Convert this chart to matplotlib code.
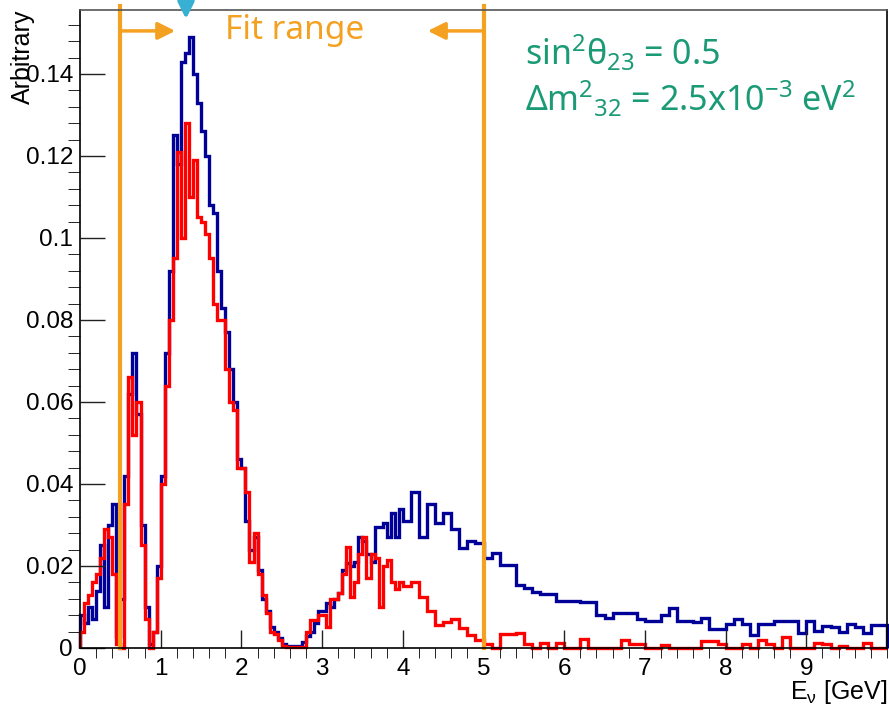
import numpy as np
import matplotlib
matplotlib.use('Agg')
import matplotlib.pyplot as plt
from matplotlib.ticker import MultipleLocator, FuncFormatter

plt.rcParams['font.family'] = ['Liberation Sans', 'DejaVu Sans']
plt.rcParams['mathtext.fontset'] = 'custom'
plt.rcParams['mathtext.rm'] = 'Noto Sans'
plt.rcParams['mathtext.it'] = 'Noto Sans:italic'
plt.rcParams['mathtext.default'] = 'regular'

# bin edges: 0.05 GeV up to 4 GeV, 0.1 GeV above
edges_fine = np.linspace(0, 4, 81)
edges_coarse = np.linspace(4, 10, 61)[1:]

# no oscillation (blue), 0-4 GeV
blue_lo = [0.008, 0.006, 0.010, 0.007, 0.014, 0.025, 0.010, 0.030, 0.035, 0.003,
           0.012, 0.042, 0.062, 0.072, 0.057, 0.030, 0.010, 0.001, 0.004, 0.020,
           0.042, 0.072, 0.092, 0.125, 0.118, 0.143, 0.145, 0.149, 0.140, 0.133,
           0.126, 0.120, 0.108, 0.106, 0.092, 0.083, 0.077, 0.068, 0.060, 0.046,
           0.044, 0.031, 0.024, 0.027, 0.019, 0.012, 0.009, 0.005, 0.004, 0.0025,
           0.001, 0.0005, 0.0005, 0.0005, 0.0005, 0.0015, 0.003, 0.004, 0.006, 0.009,
           0.009, 0.011, 0.010, 0.012, 0.0134, 0.019, 0.0207, 0.020, 0.021, 0.027,
           0.026, 0.023, 0.021, 0.0295, 0.0295, 0.0305, 0.027, 0.033, 0.027, 0.034]
# 4-10 GeV
blue_hi = [0.031, 0.038, 0.027, 0.035, 0.0305, 0.033, 0.029, 0.0244, 0.026, 0.0255,
           0.022, 0.0232, 0.0202, 0.0202, 0.0154, 0.0146, 0.0137, 0.0131, 0.0131, 0.0115,
           0.0115, 0.0115, 0.0113, 0.0113, 0.008, 0.0073, 0.0085, 0.0085, 0.0085, 0.007,
           0.0066, 0.0066, 0.008, 0.0097, 0.0067, 0.0067, 0.0063, 0.0073, 0.0046, 0.0046,
           0.0058, 0.007, 0.0058, 0.0032, 0.0058, 0.0058, 0.0065, 0.0065, 0.0065, 0.0037,
           0.0065, 0.0041, 0.0054, 0.005, 0.0039, 0.0058, 0.005, 0.0036, 0.0055, 0.0055]

# oscillated (red)
red_lo = [0.004, 0.011, 0.013, 0.016, 0.018, 0.022, 0.029, 0.027, 0.018, 0.001,
          0.000, 0.035, 0.066, 0.052, 0.060, 0.025, 0.007, 0.000, 0.004, 0.017,
          0.040, 0.064, 0.080, 0.095, 0.121, 0.100, 0.128, 0.110, 0.119, 0.105,
          0.104, 0.101, 0.095, 0.084, 0.080, 0.080, 0.068, 0.060, 0.058, 0.044,
          0.044, 0.038, 0.021, 0.028, 0.018, 0.013, 0.0085, 0.004, 0.0035, 0.002,
          0.0005, 0.0003, 0.0003, 0.0003, 0.0003, 0.0003, 0.004, 0.0068, 0.0068, 0.008,
          0.008, 0.005, 0.012, 0.012, 0.0134, 0.018, 0.0246, 0.0124, 0.016, 0.023,
          0.027, 0.017, 0.023, 0.022, 0.010, 0.020, 0.0215, 0.016, 0.0145, 0.016]
red_hi = [0.015, 0.016, 0.0124, 0.009, 0.0056, 0.0063, 0.007, 0.0049, 0.0032, 0.002,
          0.001, 0.0, 0.0034, 0.0034, 0.0036, 0.001, 0.0, 0.0013, 0.0, 0.0013,
          0.0, 0.0, 0.0022, 0.0, 0.0, 0.0, 0.0, 0.002, 0.001, 0.001,
          0.0, 0.0, 0.0008, 0.0, 0.0, 0.0, 0.0, 0.0018, 0.0018, 0.001,
          0.0, 0.0, 0.001, 0.0, 0.002, 0.001, 0.0, 0.0027, 0.0, 0.0,
          0.0, 0.0013, 0.001, 0.0, 0.0005, 0.0, 0.0, 0.0013, 0.0, 0.0]

fit_range = [0.5, 5.0]

orange = '#F4A020'
green = '#1B9A76'
cyan = '#38B0D4'

edges = np.concatenate([edges_fine, edges_coarse])
blue = np.array(blue_lo + blue_hi)
red = np.array(red_lo + red_hi)

fig = plt.figure(figsize=(8.89, 7.07), dpi=100)
ax = fig.add_axes([80/889, 1 - 648/707, 807/889, 638/707])

ax.stairs(blue, edges, color='#000099', lw=2.4, clip_on=False)
ax.stairs(red, edges, color='#FF0000', lw=2.4, clip_on=False)

ax.set_xlim(0, 10)
ax.set_ylim(0, 0.1556)

ax.set_xticks(range(0, 10))
ax.xaxis.set_minor_locator(MultipleLocator(0.2))
ax.yaxis.set_major_locator(MultipleLocator(0.02))
ax.yaxis.set_minor_locator(MultipleLocator(0.004))
ax.yaxis.set_major_formatter(FuncFormatter(lambda v, p: '%g' % round(v, 4)))

ax.tick_params(direction='in', labelsize=17.5, width=1, color='#222222')
ax.tick_params(axis='y', which='major', length=18, pad=5)
ax.tick_params(axis='y', which='minor', length=9)
ax.tick_params(axis='x', which='major', length=13, pad=7)
ax.tick_params(axis='x', which='minor', length=7.5)
for s in ax.spines.values():
    s.set_linewidth(1.2)
ax.spines['top'].set_color('#555555')

# fit range markers
for x in fit_range:
    ax.axvline(x, ymin=0, ymax=1.006, color=orange, lw=3, clip_on=False)
y_arr = 0.1505
ax.annotate('', xy=(1.18, y_arr), xytext=(fit_range[0], y_arr),
            arrowprops=dict(arrowstyle='-|>', color=orange, lw=2.5,
                            mutation_scale=26, shrinkA=0, shrinkB=0))
ax.annotate('', xy=(4.31, y_arr), xytext=(fit_range[1], y_arr),
            arrowprops=dict(arrowstyle='-|>', color=orange, lw=2.5,
                            mutation_scale=26, shrinkA=0, shrinkB=0))
ax.text(2.66, y_arr, 'Fit range', color=orange, fontsize=24,
        family='Noto Sans', ha='center', va='center')

# arrow from above
ax.annotate('', xy=(186, 707 - 19), xycoords='figure pixels',
            xytext=(186, 760), textcoords='figure pixels',
            arrowprops=dict(arrowstyle='-|>', color=cyan, lw=3,
                            mutation_scale=24, shrinkA=0, shrinkB=0),
            annotation_clip=False)

fig.text(525/889, 1 - 53/707, r'sin$^{2}$θ$_{23}$ = 0.5', color=green,
         fontsize=24.5, family='Noto Sans', ha='left', va='center')
fig.text(525/889, 1 - 99/707, r'Δm$^{2}$$_{32}$ = 2.5x10$^{-3}$ eV$^{2}$',
         color=green, fontsize=24.5, family='Noto Sans', ha='left', va='center')

fig.text(23/889, 1 - 10/707, 'Arbitrary', rotation=90, fontsize=18,
         ha='center', va='top')
fig.text(887/889, 1 - 692/707, r'E$_{\nu}$ [GeV]', fontsize=18,
         ha='right', va='center')

fig.savefig('out.png', dpi=100)
